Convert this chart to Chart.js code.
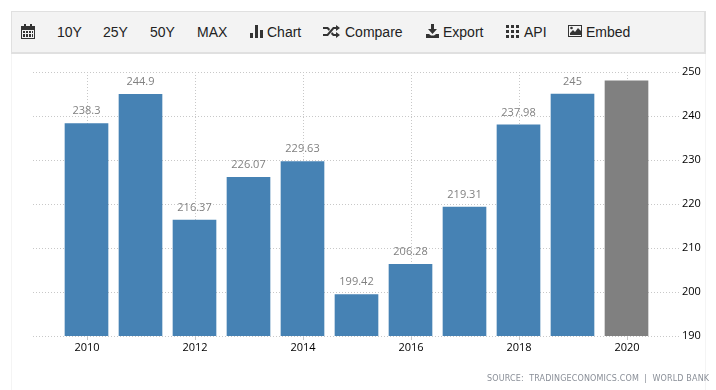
<!DOCTYPE html>
<html>
<head>
<meta charset="utf-8">
<script src="https://cdn.jsdelivr.net/npm/chart.js@4/dist/chart.umd.min.js"></script>
<style>
    html, body { margin: 0; padding: 0; background: #fff; }
    #wrap { position: relative; width: 716px; height: 390px; overflow: hidden; }
    #frame { position: absolute; left: 11px; top: 52px; width: 693px; height: 338px; border-left: 1px solid #f4f4f4; border-right: 1px solid #f4f4f4; }
    #bar { position: absolute; left: 11px; top: 11px; width: 692px; height: 40px; background: #f3f3f3; border: 1px solid #e0e0e0; border-width: 1px 2px 2px 1px; }
    .btn { position: absolute; top: 23px; font: 14px/18px "Liberation Sans", Arial, sans-serif; color: #222; white-space: nowrap; }
    svg.ic { position: absolute; fill: #333; }
    canvas { position: absolute; left: 0; top: 0; }
    #source { position: absolute; left: 487px; top: 373px; font: 8px/12px "DejaVu Sans", sans-serif; letter-spacing: 0.15px; color: #8a8f98; white-space: pre; }
</style>
</head>
<body>
<div id="wrap">
    <div id="frame"></div>
    <div id="bar"></div>
    <svg class="ic" style="left:21px;top:24px" width="14" height="15" viewBox="0 0 14 15"><path d="M0 2h3V0h2v2h4V0h2v2h3v13H0zM1 6v8h12V6z"/><path d="M2 7h2v2H2zm3 0h2v2H5zm3 0h2v2H8zm3 0h1v2h-1zM2 10h2v3H2zm3 0h2v3H5zm3 0h2v3H8zm3 0h1v3h-1z"/></svg>
    <span class="btn" style="left:57px">10Y</span>
    <span class="btn" style="left:103px">25Y</span>
    <span class="btn" style="left:150px">50Y</span>
    <span class="btn" style="left:197px">MAX</span>
    <svg class="ic" style="left:250px;top:25px" width="13" height="13" viewBox="0 0 13 13"><path d="M0 8h3v5H0zM5 0h3v13H5zM10 5h3v8h-3z"/></svg>
    <span class="btn" style="left:267px">Chart</span>
    <svg class="ic" style="left:323px;top:25px" width="17" height="13" viewBox="0 0 17 13"><path d="M13 0l4 3-4 3V4h-2L5 11H0V9h4l6-7h3zM0 2h5l2 2-1 2-2-2H0zM11 9h2V7l4 3-4 3v-2h-3L8 9l1-2z"/></svg>
    <span class="btn" style="left:345px">Compare</span>
    <svg class="ic" style="left:426px;top:24px" width="13" height="14" viewBox="0 0 13 14"><path d="M5 0h3v5h3L6.500 10 2 5h3zM0 10h3l2 1.500h3L10 10h3v4H0z"/></svg>
    <span class="btn" style="left:443px">Export</span>
    <svg class="ic" style="left:506px;top:25px" width="13" height="13" viewBox="0 0 13 13"><path d="M0 0h3v3H0zm5 0h3v3H5zm5 0h3v3h-3zM0 5h3v3H0zm5 0h3v3H5zm5 0h3v3h-3zM0 10h3v3H0zm5 0h3v3H5zm5 0h3v3h-3z"/></svg>
    <span class="btn" style="left:524px">API</span>
    <svg class="ic" style="left:568px;top:25px" width="14" height="12" viewBox="0 0 14 12"><path d="M0 0h14v12H0zM1 1v10h12V1z"/><path d="M2 10V8l3-3 2 2 3-4 3 3v4z"/><circle cx="3.500" cy="3" r="1.300"/></svg>
    <span class="btn" style="left:586px">Embed</span>
    <canvas id="chart" width="716" height="390"></canvas>
    <div id="source">SOURCE:  TRADINGECONOMICS.COM  |  WORLD BANK</div>
</div>
<script>
const years = [2010, 2011, 2012, 2013, 2014, 2015, 2016, 2017, 2018, 2019, 2020];
const values = [238.3, 244.9, 216.37, 226.07, 229.63, 199.42, 206.28, 219.31, 237.98, 245, 248];
const forecastYears = [2020];
const xTicks = [2010, 2012, 2014, 2016, 2018, 2020];
const yTicks = [190, 200, 210, 220, 230, 240, 250];

const barBlue = "#4682b4";
const barGray = "#808080";
const gridColor = "#c8c8c8";
const tickFont = '"Open Sans", sans-serif';

//draws the number above each bar, forecast bars stay unlabelled
const barLabels = {
    id: "barLabels",
    beforeDatasetsDraw(chart) {
        //half pixel nudge so the bar edges come out crisp
        chart.ctx.save();
        chart.ctx.translate(-0.5, 0);
    },
    afterDatasetsDraw(chart) {
        let ctx = chart.ctx;
        let bars = chart.getDatasetMeta(0).data;
        ctx.restore();
        ctx.save();
        ctx.font = "11px " + tickFont;
        ctx.fillStyle = "#808080";
        ctx.textAlign = "center";
        ctx.textBaseline = "bottom";
        for (let i = 0; i < bars.length; i++) {
            if (forecastYears.includes(years[i])) continue;
            ctx.fillText(String(values[i]), bars[i].x - 0.5, bars[i].y - 7);
        }
        ctx.restore();
    }
};

let canvas = document.getElementById("chart");
new Chart(canvas.getContext("2d"), {
    type: "bar",
    data: {
        datasets: [{
            data: years.map((y, i) => ({ x: y, y: values[i] })),
            backgroundColor: years.map(y => forecastYears.includes(y) ? barGray : barBlue),
            barThickness: 43,
            borderWidth: 0
        }]
    },
    options: {
        responsive: false,
        animation: false,
        layout: { padding: { left: 33, top: 72, right: 0, bottom: 0 } },
        plugins: { legend: { display: false }, tooltip: { enabled: false } },
        scales: {
            x: {
                type: "linear",
                min: 2009,
                max: 2021,
                offset: false,
                afterBuildTicks: axis => { axis.ticks = xTicks.map(v => ({ value: v })); },
                afterFit: axis => { axis.height = 54; },
                border: { display: false, dash: [1, 2] },
                grid: { offset: false, color: gridColor, tickColor: gridColor, tickLength: 4, lineWidth: 1, tickBorderDash: [] },
                ticks: {
                    maxRotation: 0,
                    autoSkip: false,
                    padding: 1,
                    color: "#000",
                    font: { family: tickFont, size: 11 },
                    callback: v => String(v)
                }
            },
            y: {
                position: "right",
                min: 190,
                max: 250,
                afterBuildTicks: axis => { axis.ticks = yTicks.map(v => ({ value: v })); },
                afterFit: axis => { axis.width = 35; },
                border: { display: false, dash: [1, 2] },
                grid: { color: gridColor, drawTicks: false, lineWidth: 1 },
                ticks: {
                    padding: 1,
                    color: "#000",
                    font: { family: tickFont, size: 11 }
                }
            }
        }
    },
    plugins: [barLabels]
});
</script>
</body>
</html>
